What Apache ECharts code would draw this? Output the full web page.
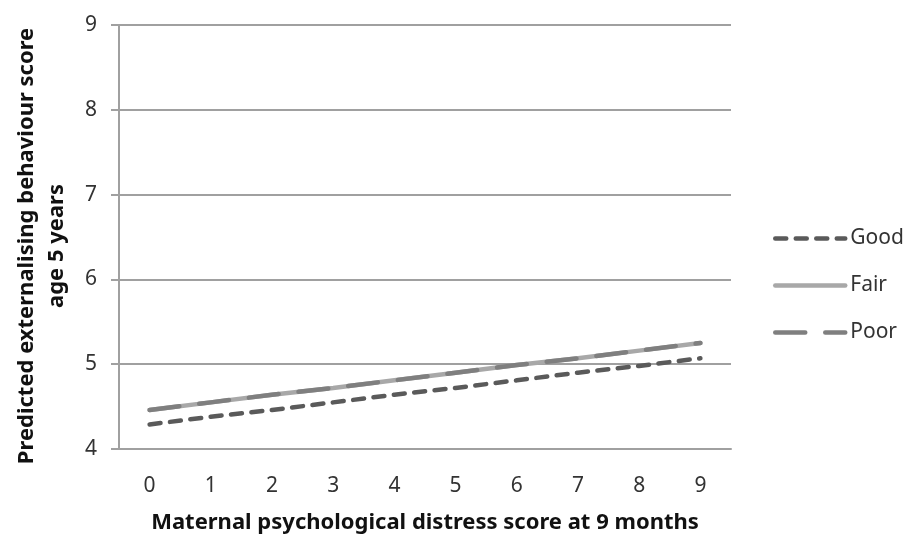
<!DOCTYPE html>
<html>
<head>
<meta charset="utf-8">
<script src="https://cdn.jsdelivr.net/npm/echarts@6/dist/echarts.min.js"></script>
<style>
html,body{margin:0;padding:0;background:#fff;}
#chart{width:910px;height:535px;}
</style>
</head>
<body>
<div id="chart"></div>
<script>
var categories = ['0','1','2','3','4','5','6','7','8','9'];
var goodValues = [4.29, 4.38, 4.46, 4.55, 4.64, 4.72, 4.81, 4.90, 4.98, 5.07];
var fairValues = [4.46, 4.55, 4.64, 4.72, 4.81, 4.90, 4.99, 5.07, 5.16, 5.25];
var poorValues = [4.46, 4.55, 4.64, 4.72, 4.81, 4.90, 4.99, 5.07, 5.16, 5.25];
var seriesNames = ['Good', 'Fair', 'Poor'];
var xTitle = 'Maternal psychological distress score at 9 months';
var yTitle = 'Predicted externalising behaviour score\nage 5 years';

var FONT = '"Noto Sans", "Open Sans", sans-serif';
var styles = [
  {color: '#5a5a5a', type: [11, 9.5]},
  {color: '#a8a8a8', type: 'solid'},
  {color: '#7f7f7f', type: [30, 20]}
];
var LW = 4.5;
var chart = echarts.init(document.getElementById('chart'), null, {renderer: 'canvas'});
chart.setOption({
  animation: false,
  backgroundColor: '#ffffff',
  grid: {left: 119, top: 25, right: 179, bottom: 86, containLabel: false, outerBoundsMode: 'none'},
  legend: {
    orient: 'vertical',
    left: 768,
    top: 223,
    itemWidth: 70,
    itemHeight: 14,
    itemGap: 26,
    itemStyle: {opacity: 0},
    textStyle: {fontFamily: FONT, fontSize: 21, color: '#333'},
    data: seriesNames.map(function (n, i) {
      return {name: n, itemStyle: {opacity: 0}, lineStyle: {width: LW, color: styles[i].color, type: styles[i].type, cap: 'round'}};
    })
  },
  xAxis: {
    type: 'category',
    data: categories,
    boundaryGap: true,
    axisLine: {show: true, lineStyle: {color: '#a0a0a0', width: 2}},
    axisTick: {show: false},
    axisLabel: {fontFamily: FONT, fontSize: 21, color: '#333', margin: 27},
    name: xTitle,
    nameLocation: 'middle',
    nameGap: 63,
    nameTextStyle: {fontFamily: FONT, fontSize: 22, fontWeight: 'bold', color: '#111'}
  },
  yAxis: {
    type: 'value',
    min: 4,
    max: 9,
    interval: 1,
    axisLine: {show: true, lineStyle: {color: '#a0a0a0', width: 2}},
    axisTick: {show: true, length: 8, lineStyle: {color: '#a0a0a0', width: 2}},
    splitLine: {show: true, lineStyle: {color: '#a0a0a0', width: 2}},
    axisLabel: {fontFamily: FONT, fontSize: 21, color: '#333', margin: 22},
    name: yTitle,
    nameLocation: 'middle',
    nameRotate: 90,
    nameGap: 47,
    nameTextStyle: {fontFamily: FONT, fontSize: 22, fontWeight: 'bold', color: '#111', lineHeight: 30, padding: [0, 18, 0, 0]}
  },
  series: seriesNames.map(function (n, i) {
    var vals = [goodValues, fairValues, poorValues][i];
    return {
      name: n, type: 'line', data: vals, symbol: 'none',
      lineStyle: {color: styles[i].color, width: LW, type: styles[i].type, cap: 'round'},
      itemStyle: {color: styles[i].color},
      z: [3, 2, 4][i]
    };
  })
});
</script>
</body>
</html>
